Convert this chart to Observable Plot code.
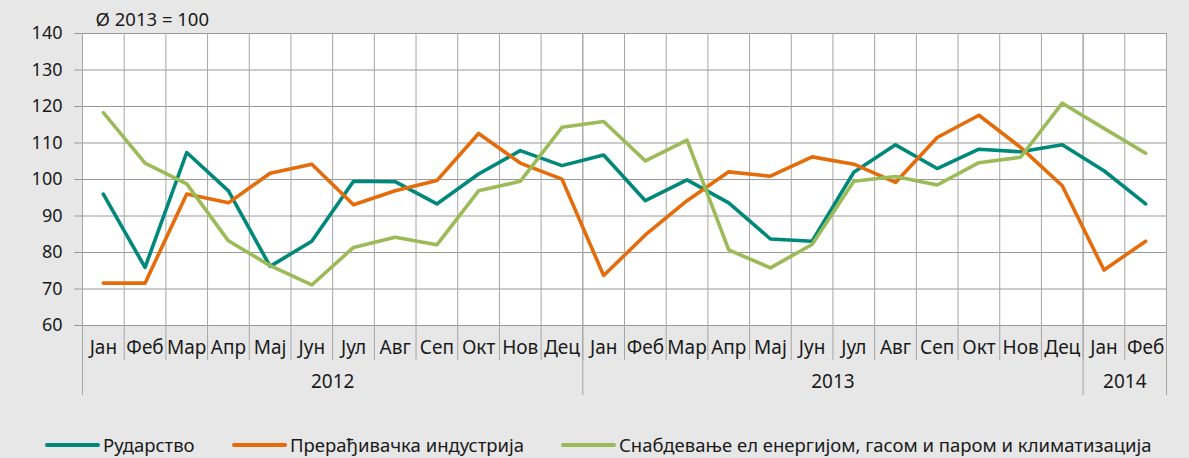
<!DOCTYPE html>
<html>
<head>
<meta charset="utf-8">
<script src="https://cdn.jsdelivr.net/npm/d3@7"></script>
<script src="https://cdn.jsdelivr.net/npm/@observablehq/plot@0.6"></script>
<style>
  html, body { margin: 0; padding: 0; background: #e7e7e7; }
  #wrap { position: relative; width: 1189px; height: 458px; font-family: "Noto Sans", sans-serif; color: #1a1a1a; }
  #legend { position: absolute; top: 432px; left: 0; width: 1189px; height: 26px; font-size: 18.5px; }
  .item { position: absolute; top: 0; display: flex; align-items: center; white-space: nowrap; }
  .sw { width: 55px; height: 4px; margin-right: 3px; border-radius: 2px; }
</style>
</head>
<body>
<div id="wrap"></div>
<script>
// ---- data ----
const months = ["Јан","Феб","Мар","Апр","Мај","Јун","Јул","Авг","Сеп","Окт","Нов","Дец",
                "Јан","Феб","Мар","Апр","Мај","Јун","Јул","Авг","Сеп","Окт","Нов","Дец",
                "Јан","Феб"];
const yearLabels = ["2012", "2013", "2014"];
const yearCounts = [12, 12, 2];
const seriesNames = ["Рударство", "Прерађивачка индустрија", "Снабдевање ел енергијом, гасом и паром и климатизација"];
const seriesColors = ["#00887b", "#e46c0a", "#9bbb59"];
const rudarstvo = [96.0, 75.9, 107.4, 96.9, 76.2, 83.1, 99.5, 99.4, 93.3, 101.5, 107.9, 103.8,
                   106.7, 94.2, 99.9, 93.6, 83.7, 83.1, 102.0, 109.5, 103.0, 108.3, 107.6, 109.5,
                   102.4, 93.3];
const preradjivacka = [71.6, 71.6, 96.0, 93.6, 101.7, 104.2, 93.1, 96.9, 99.7, 112.6, 104.5, 100.1,
                       73.7, 84.8, 94.2, 102.1, 100.9, 106.2, 104.2, 99.2, 111.5, 117.6, 108.8, 98.3,
                       75.2, 83.1];
const snabdevanje = [118.3, 104.5, 98.8, 83.2, 76.4, 71.1, 81.4, 84.2, 82.1, 96.9, 99.5, 114.3,
                     115.9, 105.1, 110.8, 80.7, 75.8, 82.2, 99.5, 100.8, 98.5, 104.6, 106.1, 120.9,
                     114.0, 107.2];
const yTicks = [60, 70, 80, 90, 100, 110, 120, 130, 140];
const baseNote = "Ø 2013 = 100";

// ---- build ----
const values = [rudarstvo, preradjivacka, snabdevanje];
const idx = d3.range(months.length);
const rows = values.flatMap((arr, s) => arr.map((v, i) => ({i, v, s: seriesNames[s]})));
const boundaries = d3.range(months.length + 1).map(k => k - 0.5);
const yearStarts = d3.cumsum([0, ...yearCounts]).slice(0, yearCounts.length);
const yearBounds = [...yearStarts, months.length].map(k => k - 0.5);
const yearCenters = yearStarts.map((s, j) => s + yearCounts[j] / 2 - 0.5);

const plot = Plot.plot({
  width: 1189,
  height: 420,
  marginLeft: 82,
  marginRight: 23,
  marginTop: 33,
  marginBottom: 95,
  style: { background: "transparent", fontFamily: "Noto Sans, sans-serif", fontSize: "16px", color: "#1a1a1a" },
  x: { type: "linear", domain: [-0.5, months.length - 0.5], axis: null },
  y: { domain: [60, 140], axis: null },
  color: { domain: seriesNames, range: seriesColors },
  marks: [
    Plot.frame({ fill: "white", stroke: null }),
    Plot.ruleY(yTicks, { stroke: "#999999", strokeWidth: 1, insetLeft: -8 }),
    Plot.ruleX(boundaries, { stroke: "#a6a6a6", strokeWidth: 1, insetBottom: -35 }),
    Plot.ruleX(yearBounds, { stroke: "#a6a6a6", strokeWidth: 1, insetBottom: -70 }),
    Plot.text(yTicks, { x: -0.5, y: d => d, text: d => String(d), textAnchor: "end", dx: -20, fontSize: 18 }),
    Plot.text(idx, { x: d => d, frameAnchor: "bottom", lineAnchor: "middle", text: d => months[d], dy: 22, fontSize: 19 }),
    Plot.text(yearLabels, { x: (d, j) => yearCenters[j], frameAnchor: "bottom", lineAnchor: "middle", text: d => d, dy: 56, fontSize: 19 }),
    Plot.text([baseNote], { frameAnchor: "top-left", lineAnchor: "middle", text: d => d, dx: 13, dy: -13, fontSize: 18.5 }),
    Plot.line(rows, { x: "i", y: "v", z: "s", stroke: "s", strokeWidth: 3.6, strokeLinejoin: "round", strokeLinecap: "round" })
  ]
});

const wrap = document.getElementById("wrap");
wrap.appendChild(plot);

const legend = document.createElement("div");
legend.id = "legend";
const lefts = [45, 232, 561];
seriesNames.forEach((name, j) => {
  const it = document.createElement("div");
  it.className = "item";
  it.style.left = lefts[j] + "px";
  const sw = document.createElement("div");
  sw.className = "sw";
  sw.style.background = seriesColors[j];
  const tx = document.createElement("span");
  tx.textContent = name;
  it.appendChild(sw);
  it.appendChild(tx);
  legend.appendChild(it);
});
wrap.appendChild(legend);
</script>
</body>
</html>
